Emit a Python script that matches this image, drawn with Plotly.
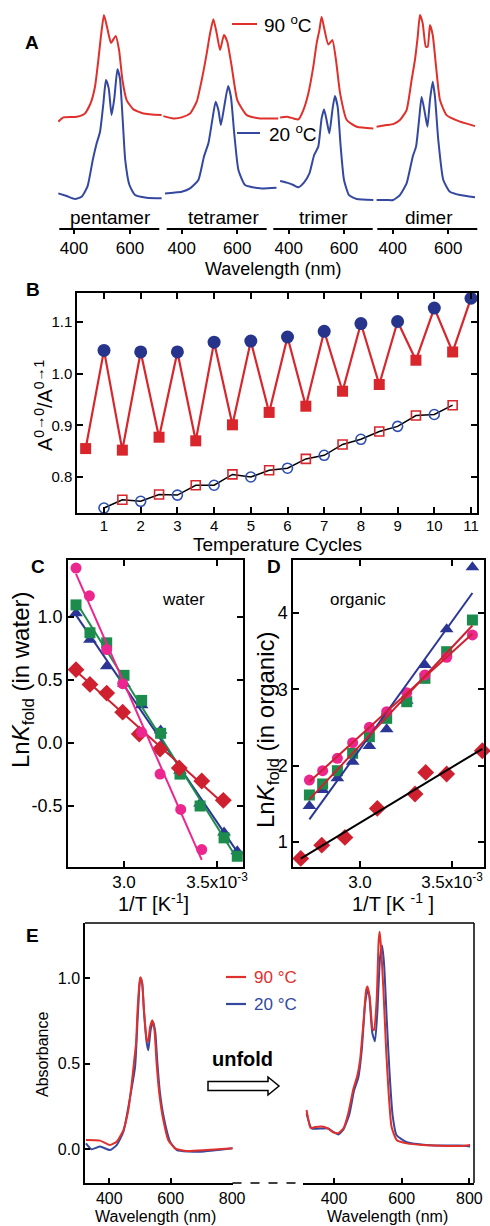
import numpy as np
import plotly.graph_objects as go

W, H = 490, 1226
FONT = "Liberation Sans"

# ================= DATA =================
# ---- Panel A: normalized absorption spectra (20 °C and 90 °C) ----
A_labels = ["pentamer", "tetramer", "trimer", "dimer"]
A_ticks = [400, 600]
A_red_offset = 0.618   # vertical offset of the 90 °C traces

pent_20_wl = [344, 374, 404, 427, 448, 467, 481, 493, 505, 514, 524, 534, 544, 555, 564, 574, 583, 598, 618, 659, 713]
pent_20_ab = [0.026, 0.005, -0.018, 0.0, 0.079, 0.289, 0.421, 0.513, 0.737, 0.921, 0.855, 0.645, 0.776, 1.005, 0.934, 0.605, 0.289, 0.092, 0.013, -0.008, -0.013]
pent_90_wl = [344, 362, 410, 439, 459, 475, 487, 496, 507, 519, 532, 549, 561, 573, 588, 612, 648, 713]
pent_90_ab = [-0.026, 0.008, 0.013, 0.039, 0.118, 0.25, 0.461, 0.645, 0.816, 0.711, 0.597, 0.65, 0.539, 0.303, 0.145, 0.071, 0.039, 0.026]

tetr_20_wl = [340, 370, 400, 430, 460, 480, 496, 510, 522, 532, 541, 553, 567, 577, 589, 604, 628, 682, 741]
tetr_20_ab = [0.026, 0.032, 0.039, 0.066, 0.132, 0.316, 0.421, 0.605, 0.75, 0.684, 0.566, 0.711, 0.874, 0.789, 0.5, 0.211, 0.092, 0.066, 0.071]
tetr_90_wl = [334, 370, 400, 430, 454, 472, 490, 502, 514, 526, 538, 552, 564, 580, 600, 634, 682, 747]
tetr_90_ab = [0.018, 0.0, 0.008, 0.039, 0.132, 0.303, 0.513, 0.671, 0.782, 0.671, 0.539, 0.658, 0.605, 0.408, 0.145, 0.026, 0.0, 0.0]

trim_20_wl = [369, 393, 417, 435, 455, 475, 492, 507, 519, 528, 537, 547, 558, 567, 577, 588, 600, 618, 646, 706]
trim_20_ab = [0.124, 0.111, 0.092, 0.074, 0.111, 0.184, 0.329, 0.395, 0.618, 0.689, 0.605, 0.5, 0.684, 0.795, 0.711, 0.395, 0.132, 0.013, -0.018, -0.026]
trim_90_wl = [369, 393, 417, 435, 453, 471, 489, 501, 511, 519, 531, 543, 558, 571, 586, 610, 646, 706]
trim_90_ab = [0.008, 0.013, 0.0, -0.008, 0.066, 0.197, 0.408, 0.592, 0.697, 0.803, 0.684, 0.584, 0.618, 0.461, 0.197, -0.013, -0.066, -0.079]

dim_20_wl = [342, 378, 402, 426, 450, 472, 484, 496, 504, 516, 525, 534, 544, 552, 564, 582, 606, 642, 696]
dim_20_ab = [-0.026, -0.026, -0.026, 0.013, 0.105, 0.316, 0.395, 0.632, 0.789, 0.658, 0.553, 0.763, 0.908, 0.789, 0.447, 0.132, 0.039, 0.013, -0.005]
dim_90_wl = [342, 378, 402, 426, 450, 468, 480, 490, 498, 508, 519, 526, 534, 544, 556, 570, 594, 642, 696]
dim_90_ab = [-0.066, -0.053, -0.045, -0.013, 0.066, 0.303, 0.461, 0.645, 0.816, 0.75, 0.566, 0.566, 0.737, 0.658, 0.408, 0.145, 0.026, -0.026, -0.061]

# ---- Panel B: A(0-0)/A(0-1) over temperature cycles ----
B_low_x = [0.5, 1.5, 2.5, 3.5, 4.5, 5.5, 6.5, 7.5, 8.5, 9.5, 10.5]
B_low_y = [0.855, 0.852, 0.877, 0.870, 0.901, 0.925, 0.937, 0.966, 0.979, 1.026, 1.042]
B_high_x = [1, 2, 3, 4, 5, 6, 7, 8, 9, 10, 11]
B_high_y = [1.045, 1.042, 1.042, 1.061, 1.063, 1.071, 1.082, 1.097, 1.101, 1.127, 1.146]
B_oc_x = [1, 2, 3, 4, 5, 6, 7, 8, 9, 10]
B_oc_y = [0.740, 0.753, 0.765, 0.784, 0.800, 0.817, 0.842, 0.873, 0.898, 0.921]
B_os_x = [1.5, 2.5, 3.5, 4.5, 5.5, 6.5, 7.5, 8.5, 9.5, 10.5]
B_os_y = [0.756, 0.766, 0.784, 0.805, 0.813, 0.835, 0.863, 0.888, 0.919, 0.939]
B_xticks = [1, 2, 3, 4, 5, 6, 7, 8, 9, 10, 11]
B_yticks = [0.8, 0.9, 1.0, 1.1]

# ---- Panel C: Ln K_fold in water vs 1/T (x in 1e-3 K^-1) ----
C_mag_x = [2.742, 2.814, 2.907, 2.993, 3.095, 3.194, 3.305, 3.418]
C_mag_y = [1.388, 1.168, 0.742, 0.471, 0.085, -0.247, -0.527, -0.846]
C_grn_x = [2.742, 2.817, 2.907, 3.000, 3.095, 3.197, 3.301, 3.409, 3.538, 3.609]
C_grn_y = [1.096, 0.875, 0.795, 0.537, 0.338, 0.077, -0.247, -0.500, -0.753, -0.899]
C_blu_x = [2.742, 2.817, 2.907, 3.000, 3.095, 3.197, 3.301, 3.409, 3.538, 3.609]
C_blu_y = [1.030, 0.820, 0.610, 0.470, 0.300, 0.100, -0.220, -0.480, -0.710, -0.860]
C_red_x = [2.742, 2.817, 2.907, 2.993, 3.082, 3.194, 3.297, 3.418, 3.534]
C_red_y = [0.582, 0.465, 0.396, 0.245, 0.072, -0.048, -0.199, -0.301, -0.455]
C_yticks = [-0.5, 0.0, 0.5, 1.0]
C_ylabels = ["-0.5", "0.0", "0.5", "1.0"]

# ---- Panel D: Ln K_fold in organic vs 1/T ----
D_mag_x = [2.725, 2.797, 2.877, 2.960, 3.051, 3.145, 3.254, 3.353, 3.471, 3.611]
D_mag_y = [1.812, 1.934, 2.096, 2.301, 2.502, 2.707, 2.956, 3.188, 3.419, 3.712]
D_grn_x = [2.725, 2.797, 2.877, 2.960, 3.051, 3.145, 3.254, 3.353, 3.471, 3.611]
D_grn_y = [1.616, 1.760, 1.934, 2.162, 2.380, 2.620, 2.838, 3.144, 3.493, 3.908]
D_blu_x = [2.725, 2.797, 2.877, 2.960, 3.051, 3.145, 3.254, 3.353, 3.471, 3.611]
D_blu_y = [1.472, 1.681, 1.834, 2.052, 2.258, 2.476, 2.850, 3.319, 3.786, 4.598]
D_red_x = [2.678, 2.792, 2.918, 3.094, 3.299, 3.357, 3.471, 3.665]
D_red_y = [0.785, 0.959, 1.060, 1.440, 1.628, 1.912, 1.890, 2.195]
D_yticks = [1, 2, 3, 4]
T_xticks = [3.0, 3.5]
T_xlabels = ["3.0", "3.5x10<sup>-3</sup>"]

# ---- Panel E: folded (left) and unfolded (right) spectra ----
E_ticks = [400, 600, 800]
E_yticks = [0.0, 0.5, 1.0]
E_ylabels = ["0.0", "0.5", "1.0"]
EL_90_wl = [324, 370, 402, 424, 446, 462, 473, 480, 487, 492, 498, 501, 507, 513, 522, 526, 533, 540, 547, 554, 563, 576, 592, 614, 652, 717, 804]
EL_90_ab = [0.053, 0.049, 0.023, 0.043, 0.111, 0.228, 0.383, 0.500, 0.617, 0.811, 0.966, 1.004, 0.973, 0.811, 0.636, 0.626, 0.715, 0.753, 0.696, 0.502, 0.323, 0.169, 0.053, 0.004, -0.012, -0.006, 0.004]
EL_20_wl = [324, 342, 370, 402, 424, 446, 467, 484, 492, 498, 501, 507, 513, 522, 527, 535, 543, 550, 556, 565, 578, 598, 620, 696, 804]
EL_20_ab = [0.033, -0.002, 0.014, -0.006, 0.023, 0.101, 0.296, 0.481, 0.750, 0.950, 1.000, 0.970, 0.800, 0.620, 0.578, 0.700, 0.743, 0.680, 0.520, 0.330, 0.180, 0.043, -0.006, -0.016, 0.004]
ER_90_wl = [319, 331, 344, 364, 383, 398, 413, 428, 442, 457, 469, 477, 487, 495, 499, 506, 514, 518, 526, 532, 535, 539, 546, 554, 561, 570, 585, 615, 664, 713, 772, 802]
ER_90_ab = [0.228, 0.123, 0.128, 0.131, 0.119, 0.097, 0.093, 0.121, 0.208, 0.350, 0.430, 0.520, 0.740, 0.930, 0.950, 0.880, 0.700, 0.695, 0.870, 1.220, 1.270, 1.180, 0.930, 0.580, 0.340, 0.130, 0.053, 0.033, 0.023, 0.019, 0.017, 0.023]
ER_20_wl = [319, 334, 364, 383, 398, 413, 428, 445, 459, 472, 482, 492, 499, 504, 513, 521, 528, 536, 542, 548, 556, 564, 573, 585, 615, 664, 713, 772, 802]
ER_20_ab = [0.208, 0.120, 0.120, 0.120, 0.100, 0.085, 0.115, 0.200, 0.340, 0.420, 0.580, 0.850, 0.930, 0.900, 0.680, 0.630, 0.800, 1.120, 1.190, 1.080, 0.750, 0.450, 0.200, 0.080, 0.040, 0.025, 0.020, 0.020, 0.015]

# ================= COLOURS =================
RED_SP = "#e0302c"
BLUE_SP = "#3448a0"
B_RED = "#d8262c"
B_NAVY = "#27348c"
B_OBLUE = "#2f4fb0"
MAG = "#ec268f"
GRN = "#1b8c4c"
TBLUE = "#2b3694"
DRED = "#cf2030"


# ================= LAYOUT HELPERS (pixel -> paper) =================
def px_x(p):
    return p / W


def px_y(p):
    return 1 - p / H


def dom_x(a, b):
    return [a / W, b / W]


def dom_y(top, bottom):
    return [1 - bottom / H, 1 - top / H]


def rng(p0, v0, p1, v1, a, b):
    s = (v1 - v0) / (p1 - p0)
    lo, hi = v0 + (a - p0) * s, v0 + (b - p0) * s
    return [min(lo, hi), max(lo, hi)]


fig = go.Figure()
layout = dict(width=W, height=H, margin=dict(l=0, r=0, t=0, b=0),
              paper_bgcolor="white", plot_bgcolor="rgba(0,0,0,0)",
              showlegend=False, template="none",
              font=dict(family=FONT, color="black"))
shapes, annots = [], []


def ann(text, x, y, size, xa="center", ya="middle", bold=False, color="black", angle=0):
    annots.append(dict(text=("<b>%s</b>" % text) if bold else text, x=px_x(x), y=px_y(y),
                       xref="paper", yref="paper", xanchor=xa, yanchor=ya, showarrow=False,
                       textangle=angle, font=dict(family=FONT, size=size, color=color)))


def hline(x0, x1, y, color="black", width=1.5, dash="solid"):
    shapes.append(dict(type="line", xref="paper", yref="paper", x0=px_x(x0), x1=px_x(x1),
                       y0=px_y(y), y1=px_y(y), line=dict(color=color, width=width, dash=dash)))


def vline(x, y0, y1, color="black", width=1.5):
    shapes.append(dict(type="line", xref="paper", yref="paper", x0=px_x(x), x1=px_x(x),
                       y0=px_y(y0), y1=px_y(y1), line=dict(color=color, width=width)))


def fitline(xs, ys):
    k, b = np.polyfit(xs, ys, 1)
    xx = np.array([min(xs), max(xs)])
    return xx, k * xx + b


# ================= PANEL A =================
A_top, A_bot = 10, 229
A_blue0, A_blue1 = 196.7, 70.0   # px of blue 0 and 1
layout["yaxis"] = dict(domain=dom_y(A_top, A_bot), visible=False,
                       range=rng(A_blue0, 0, A_blue1, 1, A_bot, A_top), fixedrange=True)
A_segs = [
    # domain px, px of 400, px of 600, axis-line px, label x
    ((58, 162), 74.0, 130.0, (59.3, 159.3), 110),
    ((163, 279), 181.7, 237.3, (166.7, 266.7), 223),
    ((273, 374), 288.7, 344.0, (273.3, 372.7), 323),
    ((376, 478), 392.7, 448.3, (377.3, 477.3), 429),
]
A_data = [(pent_20_wl, pent_20_ab, pent_90_wl, pent_90_ab),
          (tetr_20_wl, tetr_20_ab, tetr_90_wl, tetr_90_ab),
          (trim_20_wl, trim_20_ab, trim_90_wl, trim_90_ab),
          (dim_20_wl, dim_20_ab, dim_90_wl, dim_90_ab)]
for i, ((d0, d1), p400, p600, (l0, l1), lx) in enumerate(A_segs):
    name = "xaxis" if i == 0 else "xaxis%d" % (i + 1)
    xr = "x" if i == 0 else "x%d" % (i + 1)
    layout[name] = dict(domain=dom_x(d0, d1), anchor="y",
                        range=rng(p400, A_ticks[0], p600, A_ticks[1], d0, d1),
                        tickvals=A_ticks, ticks="outside", ticklen=4, tickwidth=1.5,
                        tickcolor="black", showline=False, showgrid=False, zeroline=False,
                        tickfont=dict(size=17), ticklabelstandoff=0)
    wb, ab, wr, ar = A_data[i]
    fig.add_trace(go.Scatter(x=wb, y=ab, xaxis=xr, yaxis="y", mode="lines",
                             line=dict(color=BLUE_SP, width=2, shape="spline", smoothing=0.5)))
    fig.add_trace(go.Scatter(x=wr, y=[v + A_red_offset for v in ar], xaxis=xr, yaxis="y",
                             mode="lines",
                             line=dict(color=RED_SP, width=2, shape="spline", smoothing=0.5)))
    hline(l0, l1, A_bot, width=2)
    ann(A_labels[i], lx, 217, 19)
ann("Wavelength (nm)", 273, 269, 18)
ann("A", 32, 42, 19, bold=True)
hline(232, 257, 24, color=RED_SP, width=2)
ann("90 <sup>o</sup>C", 262, 24, 19, xa="left")
hline(237, 260, 133, color=BLUE_SP, width=2)
ann("20 <sup>o</sup>C", 267, 133, 19, xa="left")

# ================= PANEL B =================
frame = dict(showline=True, linecolor="black", linewidth=1.5, mirror="ticks",
             ticks="inside", ticklen=6, tickwidth=1.5, tickcolor="black",
             showgrid=False, zeroline=False)
B_l, B_r, B_t, B_b = 77, 477, 293, 513
layout["xaxis5"] = dict(frame, domain=dom_x(B_l, B_r), anchor="y5",
                        range=rng(104, 1, 471, 11, B_l, B_r), tickvals=B_xticks,
                        tickfont=dict(size=15), ticklabelstandoff=-2)
layout["yaxis5"] = dict(frame, domain=dom_y(B_t, B_b), anchor="x5",
                        range=rng(477, 0.8, 322, 1.1, B_b, B_t), tickvals=B_yticks,
                        tickformat=".1f", tickfont=dict(size=15))
zz = sorted(zip(B_low_x + B_high_x, B_low_y + B_high_y))
fig.add_trace(go.Scatter(x=[p[0] for p in zz], y=[p[1] for p in zz], xaxis="x5", yaxis="y5",
                         mode="lines", line=dict(color=B_RED, width=2.2)))
oo = sorted(zip(B_oc_x + B_os_x, B_oc_y + B_os_y))
fig.add_trace(go.Scatter(x=[p[0] for p in oo], y=[p[1] for p in oo], xaxis="x5", yaxis="y5",
                         mode="lines", line=dict(color="black", width=1.5)))
fig.add_trace(go.Scatter(x=B_low_x, y=B_low_y, xaxis="x5", yaxis="y5", mode="markers",
                         marker=dict(symbol="square", size=11, color=B_RED), cliponaxis=False))
fig.add_trace(go.Scatter(x=B_high_x, y=B_high_y, xaxis="x5", yaxis="y5", mode="markers",
                         marker=dict(symbol="circle", size=13, color=B_NAVY), cliponaxis=False))
fig.add_trace(go.Scatter(x=B_oc_x, y=B_oc_y, xaxis="x5", yaxis="y5", mode="markers",
                         marker=dict(symbol="circle-open", size=10, color=B_OBLUE,
                                     line=dict(width=1.6))))
fig.add_trace(go.Scatter(x=B_os_x, y=B_os_y, xaxis="x5", yaxis="y5", mode="markers",
                         marker=dict(symbol="square-open", size=9, color=B_RED,
                                     line=dict(width=1.6))))
ann("Temperature Cycles", 277, 544, 19)
ann("A<sup>0\u21920</sup>/A<sup>0\u21921</sup>", 43, 405, 20, angle=-90)
ann("B", 33, 290, 19, bold=True)

# ================= PANEL C =================
C_l, C_r, C_t, C_b = 68, 243, 560, 867
layout["xaxis6"] = dict(frame, domain=dom_x(C_l, C_r), anchor="y6",
                        range=rng(124, 3.0, 217, 3.5, C_l, C_r), tickvals=T_xticks,
                        ticktext=T_xlabels, tickfont=dict(size=17), ticklabelstandoff=-1)
layout["yaxis6"] = dict(frame, domain=dom_y(C_t, C_b), anchor="x6",
                        range=rng(743, 0.0, 617, 1.0, C_b, C_t), tickvals=C_yticks,
                        ticktext=C_ylabels, tickfont=dict(size=18))
for xs, ys, col, sym, sz in [(C_blu_x, C_blu_y, TBLUE, "triangle-up", 12),
                             (C_grn_x, C_grn_y, GRN, "square", 11),
                             (C_red_x, C_red_y, DRED, "diamond", 13),
                             (C_mag_x, C_mag_y, MAG, "circle", 11)]:
    lx, ly = fitline(xs, ys)
    fig.add_trace(go.Scatter(x=lx, y=ly, xaxis="x6", yaxis="y6", mode="lines",
                             line=dict(color=col, width=2)))
    fig.add_trace(go.Scatter(x=xs, y=ys, xaxis="x6", yaxis="y6", mode="markers",
                             marker=dict(symbol=sym, size=sz, color=col)))
ann("water", 183, 599, 17)
ann("1/T [K<sup>-1</sup>]", 153, 902, 20)
ann("Ln<i>K</i><sub>fold</sub> (in water)", 22, 680, 24, angle=-90)
ann("C", 38, 567, 19, bold=True)

# ================= PANEL D =================
D_l, D_r, D_t, D_b = 293, 484, 560, 867
layout["xaxis7"] = dict(frame, domain=dom_x(D_l, D_r), anchor="y7",
                        range=rng(360, 3.0, 452, 3.5, D_l, D_r), tickvals=T_xticks,
                        ticktext=T_xlabels, tickfont=dict(size=17), ticklabelstandoff=-1)
layout["yaxis7"] = dict(frame, domain=dom_y(D_t, D_b), anchor="x7",
                        range=rng(842, 1, 613, 4, D_b, D_t), tickvals=D_yticks,
                        tickfont=dict(size=18))
for xs, ys, col, sym, sz in [(D_red_x, D_red_y, DRED, "diamond", 13),
                             (D_blu_x, D_blu_y, TBLUE, "triangle-up", 12),
                             (D_grn_x, D_grn_y, GRN, "square", 11),
                             (D_mag_x, D_mag_y, MAG, "circle", 11)]:
    fig.add_trace(go.Scatter(x=xs, y=ys, xaxis="x7", yaxis="y7", mode="markers",
                             marker=dict(symbol=sym, size=sz, color=col), cliponaxis=False))
for xs, ys, lcol in [(D_red_x, D_red_y, "black"), (D_blu_x, D_blu_y, TBLUE),
                     (D_grn_x, D_grn_y, DRED), (D_mag_x, D_mag_y, DRED)]:
    lx, ly = fitline(xs, ys)
    fig.add_trace(go.Scatter(x=lx, y=ly, xaxis="x7", yaxis="y7", mode="lines",
                             line=dict(color=lcol, width=2)))
ann("organic", 358, 599, 17)
ann("1/T [K <sup>-1</sup> ]", 393, 902, 20)
ann("Ln<i>K</i><sub>fold</sub> (in organic)", 268, 730, 24, angle=-90)
ann("D", 274, 567, 19, bold=True)

# ================= PANEL E =================
E_t, E_b = 923, 1183
EL = (85, 232.5)
ER = (303, 474)
eax = dict(showline=True, linecolor="black", linewidth=1.5, mirror=False,
           ticks="inside", ticklen=5, tickwidth=1.5, tickcolor="black",
           showgrid=False, zeroline=False, tickfont=dict(size=16))
layout["yaxis8"] = dict(eax, domain=dom_y(E_t, E_b), anchor="x8",
                        range=rng(1149, 0.0, 978, 1.0, E_b, E_t), tickvals=E_yticks,
                        ticktext=E_ylabels)
layout["xaxis8"] = dict(eax, domain=dom_x(*EL), anchor="y8",
                        range=rng(109.3, 400, 170.7, 600, EL[0], EL[1]), tickvals=E_ticks)
layout["xaxis9"] = dict(eax, domain=dom_x(*ER), anchor="y8",
                        range=rng(334.0, 400, 401.7, 600, ER[0], ER[1]), tickvals=E_ticks)
for xr, wb, ab, wr, ar in [("x8", EL_20_wl, EL_20_ab, EL_90_wl, EL_90_ab),
                           ("x9", ER_20_wl, ER_20_ab, ER_90_wl, ER_90_ab)]:
    fig.add_trace(go.Scatter(x=wb, y=ab, xaxis=xr, yaxis="y8", mode="lines",
                             line=dict(color=BLUE_SP, width=2, shape="spline", smoothing=0.5)))
    fig.add_trace(go.Scatter(x=wr, y=ar, xaxis=xr, yaxis="y8", mode="lines",
                             line=dict(color=RED_SP, width=2, shape="spline", smoothing=0.5)))
hline(EL[0], ER[1], E_t)
vline(ER[1], E_t, E_b)
hline(EL[1], ER[0], E_b, dash="dash")
hline(226, 246, 977, color=RED_SP, width=2.2)
ann("90 \u00b0C", 252, 977, 17, xa="left", color=RED_SP)
hline(226, 246, 1004, color=BLUE_SP, width=2.2)
ann("20 \u00b0C", 252, 1004, 17, xa="left", color=BLUE_SP)
ann("unfold", 242, 1059, 20, bold=True)
arrow_px = [(208, 1081.5), (268, 1081.5), (268, 1077), (279, 1086), (268, 1095),
            (268, 1090.5), (208, 1090.5)]
path = "M " + " L ".join("%.5f,%.5f" % (px_x(a), px_y(b)) for a, b in arrow_px) + " Z"
shapes.append(dict(type="path", xref="paper", yref="paper", path=path,
                   line=dict(color="black", width=1.5), fillcolor="white"))
ann("Wavelength (nm)", 155, 1216, 16)
ann("Wavelength (nm)", 387, 1216, 16)
ann("Absorbance", 42, 1055, 16, angle=-90)
ann("E", 32, 935, 19, bold=True)

layout["shapes"] = shapes
layout["annotations"] = annots
fig.update_layout(**layout)
fig.write_html("out.html", config={"displayModeBar": False},
               post_script="document.body.style.margin='0';document.body.style.overflow='hidden';")
